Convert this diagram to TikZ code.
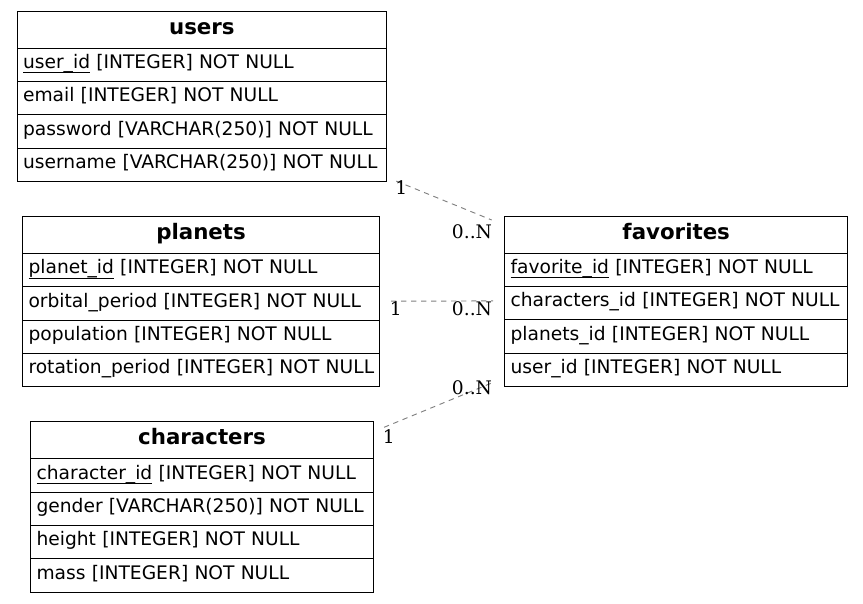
\documentclass[tikz,border=0pt]{standalone}
\usepackage{fontspec}
\setmainfont{DejaVu Sans}
\newfontfamily\lblfont{DejaVu Serif}
\newcommand\pk[1]{\setbox0\hbox{#1}\rlap{\rule[-3.4pt]{\wd0}{0.6pt}}\box0\relax}
\tikzset{
	head/.style={draw,anchor=north west,inner sep=0pt,minimum height=27.75pt,
		text height=10.6pt,text depth=3.8pt,font={\fontsize{16}{19}\selectfont\bfseries}},
	row/.style={draw,anchor=north west,inner xsep=4.5pt,inner ysep=0pt,minimum height=25pt,
		text height=9.6pt,text depth=4pt,align=left},
	rel/.style={gray,dash pattern=on 4pt off 3.5pt,line width=0.7pt},
	card/.style={inner sep=0pt,font={\fontsize{14}{17}\selectfont\lblfont}}
}
\begin{document}
\begin{tikzpicture}[x=0.75pt,y=-0.75pt,line width=0.8pt,font={\fontsize{14}{17}\selectfont}]
	\useasboundingbox (0,0) rectangle (863,603);
	% users
	\node[head,minimum width=277.3pt] (users) at (16.5,10.5) {users};
	\foreach \t [count=\i] in {\pk{user\_id} [INTEGER] NOT NULL,email [INTEGER] NOT NULL,%
		password [VARCHAR(250)] NOT NULL,username [VARCHAR(250)] NOT NULL}{
			\node[row,text width=268.3pt] (users-\i) at (16.5,{47.5+(\i-1)*33.4}) {\mbox{\t}};
		}
	% planets
	\node[head,minimum width=267.75pt] (planets) at (22,216) {planets};
	\foreach \t [count=\i] in {\pk{planet\_id} [INTEGER] NOT NULL,orbital\_period [INTEGER] NOT NULL,%
		population [INTEGER] NOT NULL,rotation\_period [INTEGER] NOT NULL}{
			\node[row,text width=258.75pt] (planets-\i) at (22,{253+(\i-1)*33.3}) {\mbox{\t}};
		}
	% characters
	\node[head,minimum width=257.25pt] (chars) at (30,421.3) {characters};
	\foreach \t [count=\i] in {\pk{character\_id} [INTEGER] NOT NULL,gender [VARCHAR(250)] NOT NULL,%
		height [INTEGER] NOT NULL,mass [INTEGER] NOT NULL}{
			\node[row,text width=248.25pt] (chars-\i) at (30,{458.3+(\i-1)*33.3}) {\mbox{\t}};
		}
	% favorites
	\node[head,minimum width=257.5pt] (fav) at (504,215.7) {favorites};
	\foreach \t [count=\i] in {\pk{favorite\_id} [INTEGER] NOT NULL,characters\_id [INTEGER] NOT NULL,%
		planets\_id [INTEGER] NOT NULL,user\_id [INTEGER] NOT NULL}{
			\node[row,text width=248.5pt] (fav-\i) at (504,{252.7+(\i-1)*33.3}) {\mbox{\t}};
		}
	% relations
	\draw[rel] ([shift={(9,-1)}]users-4.south east)--([shift={(-12.3,4.3)}]fav.north west);
	\draw[rel] ([shift={(11,-2.3)}]planets-2.east)--([shift={(-11,-2.3)}]fav-2.west);
	\draw[rel] ([shift={(10,6)}]chars.north east)--([shift={(-12.3,-4)}]fav-4.south west);
	\node[card] (c1a) at (401.3,187.7) {1};
	\node[card] (c1b) at (472,231.7) {0..N};
	\node[card] (c2a) at (395.8,308.3) {1};
	\node[card] (c2b) at (472,308.3) {0..N};
	\node[card] (c3a) at (388.7,436.3) {1};
	\node[card] (c3b) at (472,388) {0..N};
\end{tikzpicture}
\end{document}
